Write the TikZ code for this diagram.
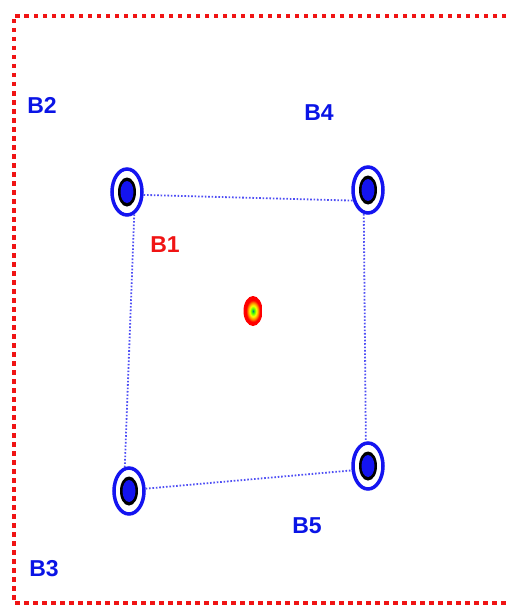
\documentclass[tikz,border=0pt]{standalone}
\usepackage{fontspec}
\setmainfont{Liberation Sans}
\usepackage{tikz}
\usetikzlibrary{shapes.geometric}
\definecolor{ringblue}{RGB}{20,20,240}
\definecolor{labblue}{RGB}{10,20,230}
\definecolor{framered}{RGB}{240,20,20}
\pgfdeclareradialshading{hotspot}{\pgfpoint{0bp}{0bp}}{color(0bp)=(blue!50!green); color(4bp)=(green!70!yellow); color(9bp)=(yellow); color(14bp)=(orange); color(18bp)=(red); color(25bp)=(red); color(50bp)=(red)}
\tikzset{
  ring/.style={ellipse,draw=ringblue,line width=3.5pt,fill=white,minimum width=30pt,minimum height=46pt,inner sep=0pt},
  link/.style={ringblue!75,line width=1.8pt,dash pattern=on 1.6pt off 1.8pt},
  lab/.style={font=\bfseries\fontsize{23}{27}\selectfont,inner sep=0pt}
}
\begin{document}
\begin{tikzpicture}[x=1pt,y=-1pt]
\useasboundingbox (0,0) rectangle (507,607);
% frame
\draw[framered,line width=4.5pt,dash pattern=on 4.5pt off 4.5pt] (515,16) -- (14,16) -- (14,603) -- (515,603);
% sensors
\foreach \n/\x/\y in {s1/127/192,s4/368/190,s3/129/491,s5/368/466}{
  \node[ring] (\n) at (\x,\y) {};
  \fill[black] (\n.center) ellipse (9 and 14.5);
  \fill[ringblue] (\n.center) ellipse (6.5 and 11);
}
% links
\draw[link] (s1.-10) -- (s4.215);
\draw[link] (s1.-72) -- (s3.100);
\draw[link] (s4.-100) -- (s5.95);
\draw[link] (s3.8) -- (s5.195);
% source
\shade[shading=hotspot] (253,311) ellipse (9.5 and 15);
% labels
\node[lab,text=labblue] (b2) at (42,105) {B2};
\node[lab,text=labblue] (b4) at (319,113) {B4};
\node[lab,text=framered] (b1) at (165,245) {B1};
\node[lab,text=labblue] (b3) at (44,569) {B3};
\node[lab,text=labblue] (b5) at (307,526) {B5};
\end{tikzpicture}
\end{document}
